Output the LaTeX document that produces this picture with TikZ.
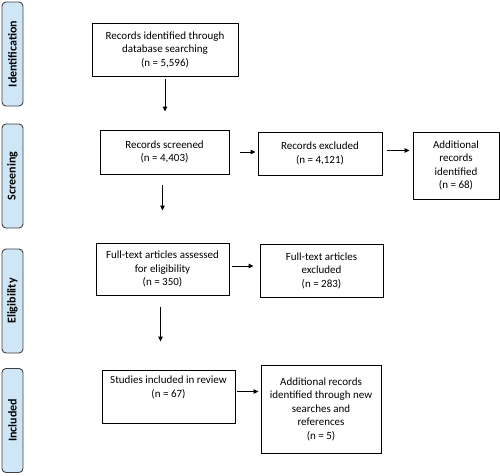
\documentclass[tikz,border=0pt]{standalone}
\usepackage{fontspec}
\setmainfont{Carlito}
\usetikzlibrary{arrows.meta}
\definecolor{phaseblue}{HTML}{CFE6F7}
\begin{document}
\begin{tikzpicture}[x=1pt,y=-1pt,
		box/.style={draw,line width=0.9pt,align=center,inner sep=2pt,font=\fontsize{11}{13.5}\selectfont},
		phase/.style={draw=black!75,line width=0.9pt,fill=phaseblue,rounded corners=4pt,minimum width=104pt,minimum height=21pt,rotate=90,font=\fontsize{12}{14}\selectfont\bfseries},
		arr/.style={-{Triangle[length=5pt,width=4.5pt]},line width=0.9pt}]
			\useasboundingbox (0,0) rectangle (500,475);
			% phases
			\node [phase] (pid) at (12.5,54) {Identification};
			\node [phase] (pscr) at (12.5,176) {Screening};
			\node [phase] (pelig) at (12.5,301) {Eligibility};
			\node [phase] (pincl) at (12.5,420.5) {Included};
			% boxes
			\node [box,minimum width=146pt,minimum height=53pt] (ident) at (165,49.5) {Records identified through\\database searching\\(n = 5,596)};
			\node [box,minimum width=129pt,minimum height=44pt] (screen) at (164.5,152) {Records screened\\(n = 4,403)};
			\node [box,minimum width=124pt,minimum height=43pt] (excl) at (320,153.5) {Records excluded\\(n = 4,121)};
			\node [box,minimum width=86pt,minimum height=67pt] (addid) at (456,165.5) {Additional\\records\\identified\\(n = 68)};
			\node [box,minimum width=133pt,minimum height=52pt] (full) at (162.5,269) {Full-text articles assessed\\for eligibility\\(n = 350)};
			\node [box,minimum width=123pt,minimum height=53pt] (ftex) at (321.5,270.5) {Full-text articles\\excluded\\(n = 283)};
			\node [box,minimum width=133pt,minimum height=53pt] (incl) at (168.5,396.5) {Studies included in review\\(n = 67)\\[6pt]};
			\node [box,minimum width=120pt,minimum height=88pt] (addnew) at (321,409) {Additional records\\identified through new\\searches and\\references\\(n = 5)};
			% arrows
			\draw [arr,shorten <=3pt,shorten >=18pt] (ident.south) -- (ident.south |- screen.north);
			\draw [arr,shorten <=11pt,shorten >=2pt] (screen.east) -- (screen.east -| excl.west);
			\draw [arr,shorten <=5pt,shorten >=3pt] ([yshift=3pt]excl.east) -- ([yshift=3pt]excl.east -| addid.west);
			\draw [arr,shorten <=11pt,shorten >=32pt] ([xshift=-2pt]screen.south) -- ([xshift=-2pt]screen.south |- full.north);
			\draw [arr,shorten <=3pt,shorten >=6pt] ([yshift=3pt]full.east) -- ([yshift=3pt]full.east -| ftex.west);
			\draw [arr,shorten <=12pt,shorten >=28pt] ([xshift=-2pt]full.south) -- ([xshift=-2pt]full.south |- incl.north);
			\draw [arr,shorten <=2pt,shorten >=2pt] ([yshift=5pt]incl.east) -- ([yshift=5pt]incl.east -| addnew.west);
		\end{tikzpicture}
\end{document}
